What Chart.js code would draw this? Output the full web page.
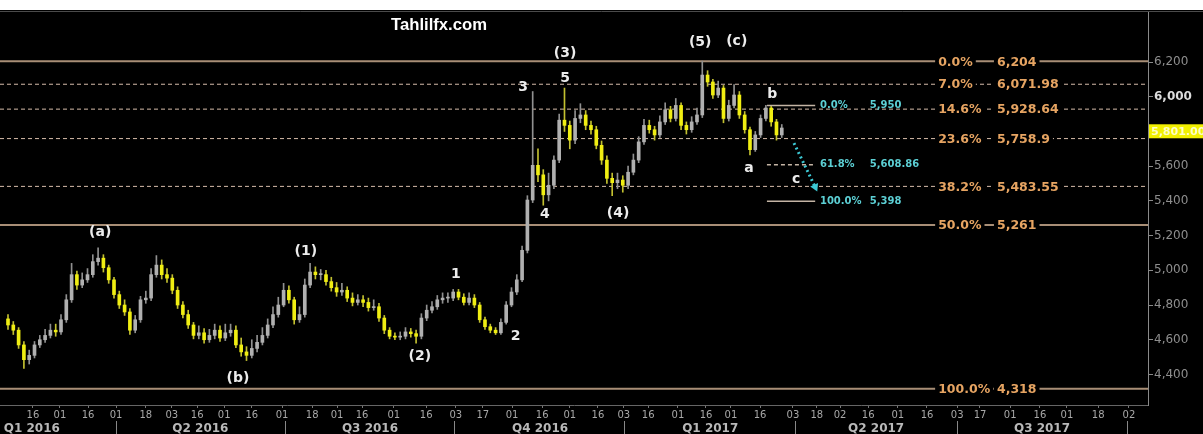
<!DOCTYPE html>
<html>
<head>
<meta charset="utf-8">
<script src="https://cdn.jsdelivr.net/npm/chart.js@4.4.0/dist/chart.umd.min.js"></script>
<style>
  html, body { margin: 0; padding: 0; background: #fff; }
  #wrap { position: absolute; left: 0; top: 10px; width: 1203px; height: 424px; background: #000; }
</style>
</head>
<body>
<div id="wrap"><canvas id="chart" width="1203" height="424"></canvas></div>
<script>
/* ── Candles (one slot = two trading days, Feb 2016 → Mar 2017) ── */
const opens = [
  4720,4685,4655,4570,4485,4510,4570,4600,4625,4655,
  4645,4715,4830,4975,4915,4945,4975,5050,5070,5015,
  4945,4860,4800,4760,4655,4715,4830,4840,4975,5030,
  4975,4955,4885,4800,4745,4685,4625,4640,4600,4625,
  4655,4610,4640,4655,4570,4530,4510,4550,4585,4625,
  4685,4745,4800,4885,4830,4715,4745,4915,4990,4975,
  4975,4935,4900,4875,4885,4840,4815,4830,4815,4785,
  4790,4725,4655,4620,4615,4620,4645,4635,4620,4725,
  4770,4790,4830,4840,4840,4875,4845,4815,4840,4800,
  4715,4675,4655,4640,4700,4800,4875,4945,5115,5405,
  5605,5550,5435,5490,5635,5865,5835,5750,5875,5895,
  5835,5810,5720,5635,5530,5505,5520,5490,5565,5635,
  5740,5835,5810,5780,5855,5925,5875,5950,5835,5810,
  5855,5895,6125,6085,6010,6050,5875,5950,6010,5895,
  5810,5695,5780,5875,5935,5855,5780
];
const highs = [
  4745,4705,4670,4590,4540,4590,4625,4660,4690,4690,
  4745,4860,5040,4995,4985,5010,5090,5130,5090,5030,
  4960,4880,4830,4780,4740,4850,4880,5010,5085,5060,
  5010,4975,4905,4820,4770,4700,4680,4665,4660,4690,
  4680,4690,4690,4680,4610,4560,4600,4625,4670,4720,
  4790,4845,4925,4910,4845,4790,4950,5040,5020,5005,
  5000,4960,4930,4925,4905,4870,4860,4855,4840,4830,
  4810,4740,4670,4640,4645,4670,4665,4655,4750,4800,
  4820,4855,4870,4870,4890,4890,4865,4870,4860,4815,
  4730,4690,4670,4720,4820,4900,4975,5140,5430,6030,
  5700,5580,5560,5660,5900,6050,5860,5920,5960,5920,
  5860,5830,5745,5660,5560,5560,5545,5600,5670,5770,
  5870,5865,5830,5890,5965,5945,5990,5965,5855,5885,
  5935,6205,6150,6100,6090,6065,5980,6070,6030,5915,
  5825,5800,5895,5950,5945,5870,5840
];
const lows = [
  4660,4630,4550,4435,4460,4495,4555,4585,4610,4620,
  4630,4700,4815,4890,4900,4930,4960,5030,4990,4925,
  4840,4780,4740,4630,4640,4700,4810,4825,4960,4950,
  4930,4865,4780,4725,4665,4605,4605,4580,4585,4605,
  4590,4595,4620,4555,4505,4480,4495,4530,4570,4610,
  4670,4730,4790,4810,4690,4700,4730,4900,4950,4945,
  4915,4880,4850,4855,4820,4795,4800,4790,4765,4770,
  4705,4635,4605,4600,4600,4605,4615,4580,4605,4710,
  4755,4775,4810,4815,4825,4830,4800,4800,4785,4700,
  4660,4640,4630,4630,4690,4790,4860,4935,5100,5390,
  5510,5375,5400,5470,5620,5800,5700,5730,5850,5810,
  5785,5700,5610,5500,5430,5470,5450,5470,5550,5620,
  5725,5790,5750,5765,5840,5855,5860,5810,5785,5795,
  5840,5880,6060,5990,5995,5850,5860,5935,5875,5790,
  5665,5685,5765,5860,5830,5750,5765
];
const closes = [
  4685,4655,4570,4485,4510,4570,4600,4625,4655,4645,
  4715,4830,4975,4915,4945,4975,5050,5070,5015,4945,
  4860,4800,4760,4655,4715,4830,4840,4975,5030,4975,
  4955,4885,4800,4745,4685,4625,4640,4600,4625,4655,
  4610,4640,4655,4570,4530,4510,4550,4585,4625,4685,
  4745,4800,4885,4830,4715,4745,4915,4990,4975,4975,
  4935,4900,4875,4885,4840,4815,4830,4815,4785,4790,
  4725,4655,4620,4615,4620,4645,4635,4620,4725,4770,
  4790,4830,4840,4840,4875,4845,4815,4840,4800,4715,
  4675,4655,4640,4700,4800,4875,4945,5115,5405,5605,
  5550,5435,5490,5635,5865,5835,5750,5875,5895,5835,
  5810,5720,5635,5530,5505,5520,5490,5565,5635,5740,
  5835,5810,5780,5855,5925,5875,5950,5835,5810,5855,
  5895,6125,6085,6010,6050,5875,5950,6010,5895,5810,
  5695,5780,5875,5935,5855,5780,5820
];
const lastPrice = 5801;

/* ── Axis ticks ── */
const dateTickSlots  = [4.7, 9.8, 15.1, 20.4, 26.0, 30.9, 35.7, 40.8, 46.0, 51.7, 57.4, 62.1, 66.8, 72.8, 78.9, 84.5, 89.6, 95.1, 100.8, 106.0,
                        111.3, 116.2, 120.8, 126.4, 131.7, 136.4, 141.9, 148.1, 152.6, 157.0, 162.3, 167.9, 173.4, 179.1, 183.4, 189.1, 194.7, 199.8, 205.7, 211.5];
const dateTickLabels = ['16','01','16','01','18','03','16','01','16','01','18','01','16','01','16','03','17','01','16','01',
                        '16','03','16','01','16','01','16','03','18','02','16','01','16','03','17','01','16','01','18','02'];
const quarterSlots  = [4.5, 20.4, 36.3, 52.3, 68.3, 84.3, 100.4, 116.4, 132.5, 148.5, 163.8, 179.1, 195.1, 211.3];
const quarterLabels = ['Q1 2016','','Q2 2016','','Q3 2016','','Q4 2016','','Q1 2017','','Q2 2017','','Q3 2017',''];
const yTickVals = [4400, 4600, 4800, 5000, 5200, 5400, 5600, 5800, 6000, 6200];

/* ── Fibonacci retracement (6,204 → 4,318) ── */
const fibPcts   = ['0.0%', '7.0%', '14.6%', '23.6%', '38.2%', '50.0%', '100.0%'];
const fibValues = [6204, 6071.98, 5928.64, 5758.9, 5483.55, 5261, 4318];
const fibSolid  = [true, false, false, false, false, true, true];

/* ── Projection for wave c ── */
const projPcts   = ['0.0%', '61.8%', '100.0%'];
const projValues = [5950, 5608.86, 5398];
const projSolid  = [true, false, true];
const projRange  = [143.2, 152.3];
const arrowSlots = [148.3, 152.3];
const arrowVals  = [5733, 5480];

/* ── Elliott wave labels ── */
const waveText = ['(a)', '(b)', '(1)', '(2)', '1', '2', '3', '4', '5', '(3)', '(4)', '(5)', '(c)', 'a', 'b', 'c'];
const waveSlot = [17.4, 43.4, 56.2, 77.7, 84.5, 95.8, 97.2, 101.3, 105.1, 105.1, 115.1, 130.6, 137.5, 139.8, 144.2, 148.7];
const waveVal  = [5221, 4380, 5111, 4506, 4979, 4622, 6056, 5324, 6108, 6252, 5330, 6315, 6321, 5589, 6016, 5526];

const X_MIN = -1.51, X_MAX = 215.1;
const Y_MIN = 4224, Y_MAX = 6494;

const YELLOW = '#f0ee12', GREY = '#b0b0b0';
const isDown = closes.map((c, i) => c < opens[i]);

const fmt = v => v.toLocaleString('en-US', { maximumFractionDigits: 2 });

const fibSets = fibValues.map((v, i) => ({
  type: 'line',
  data: [{ x: X_MIN, y: v }, { x: X_MAX, y: v }],
  borderColor: fibSolid[i] ? '#a88e76' : '#d6bcaa',
  borderWidth: fibSolid[i] ? 2 : 1,
  borderDash: fibSolid[i] ? [] : [4, 3],
  pointRadius: 0,
  order: 10,
}));

const projSets = projValues.map((v, i) => ({
  type: 'line',
  data: [{ x: projRange[0], y: v }, { x: projRange[1], y: v }],
  borderColor: '#c4b4a4',
  borderWidth: 1.5,
  borderDash: projSolid[i] ? [] : [4, 3],
  pointRadius: 0,
  order: 9,
}));

// keep the plot area flush with the canvas edges
const noPad = a => { a.paddingTop = 0; a.paddingBottom = 0; a.paddingLeft = 0; a.paddingRight = 0; };

const annotPlugin = {
  id: 'annot',
  afterDatasetsDraw(chart) {
    const { ctx, scales: { x, y } } = chart;
    ctx.save();
    ctx.textBaseline = 'middle';

    // main fib labels
    ctx.font = 'bold 12.5px "DejaVu Sans", sans-serif';
    fibValues.forEach((v, i) => {
      const py = y.getPixelForValue(v);
      [[fibPcts[i], x.getPixelForValue(175.5)], [fmt(v), x.getPixelForValue(186.6)]].forEach(([t, px]) => {
        const w = ctx.measureText(t).width;
        ctx.fillStyle = '#000';
        ctx.fillRect(px - 3, py - 6, w + 6, 12);
        ctx.fillStyle = '#e6a462';
        ctx.fillText(t, px, py + 1);
      });
    });

    // projection labels
    ctx.font = 'bold 10px "DejaVu Sans", sans-serif';
    ctx.fillStyle = '#5ccfd4';
    projValues.forEach((v, i) => {
      const py = y.getPixelForValue(v);
      ctx.fillText(projPcts[i], x.getPixelForValue(153.2), py);
      ctx.fillText(fmt(v), x.getPixelForValue(162.6), py);
    });

    // wave labels
    ctx.font = 'bold 14px "DejaVu Sans", sans-serif';
    ctx.fillStyle = '#ececec';
    ctx.textAlign = 'center';
    waveText.forEach((t, i) => {
      ctx.fillText(t, x.getPixelForValue(waveSlot[i]), y.getPixelForValue(waveVal[i]));
    });

    // watermark, squeezed to the condensed look of the original
    ctx.font = 'bold 16px "Liberation Sans", Arial, sans-serif';
    ctx.fillStyle = '#fff';
    const tw = ctx.measureText('Tahlilfx.com').width;
    ctx.translate(439, 16);
    ctx.scale(96 / tw, 1);
    ctx.fillText('Tahlilfx.com', 0, 0);
    ctx.restore();
  },
  afterDraw(chart) {
    const { ctx, chartArea, scales: { y } } = chart;
    ctx.save();
    // top frame line
    ctx.strokeStyle = '#4a4a4a';
    ctx.lineWidth = 1;
    ctx.beginPath();
    ctx.moveTo(chartArea.left, chartArea.top + 0.5);
    ctx.lineTo(chart.width, chartArea.top + 0.5);
    ctx.stroke();
    // current price tag
    const py = y.getPixelForValue(lastPrice);
    ctx.fillStyle = '#f2f000';
    ctx.fillRect(chartArea.right + 1, py - 7, chart.width - chartArea.right, 14);
    ctx.fillStyle = '#fdfdc8';
    ctx.font = 'bold 11px "DejaVu Sans", sans-serif';
    ctx.textBaseline = 'middle';
    ctx.fillText(fmt(lastPrice) + '.00', chartArea.right + 3, py + 1);
    ctx.restore();
  }
};

new Chart(document.getElementById('chart'), {
  type: 'bar',
  data: {
    datasets: [
      {
        label: 'body',
        data: closes.map((c, i) => ({ x: i, y: [opens[i], c] })),
        backgroundColor: isDown.map(d => d ? YELLOW : GREY),
        barThickness: 3,
        minBarLength: 1,
        grouped: false,
        order: 0,
      },
      {
        label: 'wick',
        data: closes.map((c, i) => ({ x: i, y: [lows[i], highs[i]] })),
        backgroundColor: isDown.map(d => d ? '#c2c030' : '#909090'),
        barThickness: 1,
        grouped: false,
        order: 1,
      },
      {
        type: 'line',
        label: 'arrow',
        data: arrowSlots.map((s, i) => ({ x: s, y: arrowVals[i] })),
        borderColor: '#3cc8d4',
        borderWidth: 3,
        borderDash: [2, 3],
        pointRadius: [0, 5],
        pointStyle: 'triangle',
        rotation: [0, 155],
        pointBackgroundColor: '#3cc8d4',
        pointBorderWidth: 0,
        order: 2,
      },
      ...projSets,
      ...fibSets,
    ]
  },
  options: {
    responsive: false,
    animation: false,
    devicePixelRatio: 1,
    layout: { autoPadding: false, padding: { top: 1, left: 0, right: 0, bottom: 0 } },
    plugins: { legend: { display: false }, tooltip: { enabled: false } },
    scales: {
      x: {
        type: 'linear', position: 'bottom', min: X_MIN, max: X_MAX, weight: 1, offset: false,
        grid: { drawOnChartArea: false, tickLength: 3, color: '#777', offset: false },
        border: { color: '#666' },
        ticks: {
          color: '#a8a8a8', font: { family: 'DejaVu Sans', size: 10 },
          autoSkip: false, maxRotation: 0, padding: 1,
          callback: (v, i) => dateTickLabels[i],
        },
        afterBuildTicks: a => { a.ticks = dateTickSlots.map(v => ({ value: v })); },
        afterFit: a => { a.height = 16; noPad(a); },
      },
      x2: {
        type: 'linear', position: 'bottom', min: X_MIN, max: X_MAX, weight: 2, offset: false,
        grid: {
          drawOnChartArea: false, tickLength: 13, offset: false,
          color: c => quarterLabels[c.index] === '' ? '#888' : 'rgba(0,0,0,0)',
        },
        border: { display: false },
        ticks: {
          color: '#b8b8b8', font: { family: 'DejaVu Sans', size: 12, weight: 'bold' },
          autoSkip: false, maxRotation: 0, padding: -12,
          callback: (v, i) => quarterLabels[i],
        },
        afterBuildTicks: a => { a.ticks = quarterSlots.map(v => ({ value: v })); },
        afterFit: a => { a.height = 13; noPad(a); },
      },
      y: {
        type: 'linear', position: 'right', min: Y_MIN, max: Y_MAX,
        grid: { drawOnChartArea: false, tickLength: 5, color: '#8a8a8a' },
        border: { color: '#8a8a8a' },
        ticks: {
          color: c => c.tick && c.tick.value === 6000 ? '#dcdcdc' : '#8e8e8e',
          font: c => ({ family: 'DejaVu Sans', size: 12, weight: c.tick && c.tick.value === 6000 ? 'bold' : 'normal' }),
          padding: 1,
          callback: v => v.toLocaleString('en-US'),
        },
        afterBuildTicks: a => { a.ticks = yTickVals.map(v => ({ value: v })); },
        afterFit: a => { a.width = 55; noPad(a); },
      }
    }
  },
  plugins: [annotPlugin]
});
</script>
</body>
</html>
